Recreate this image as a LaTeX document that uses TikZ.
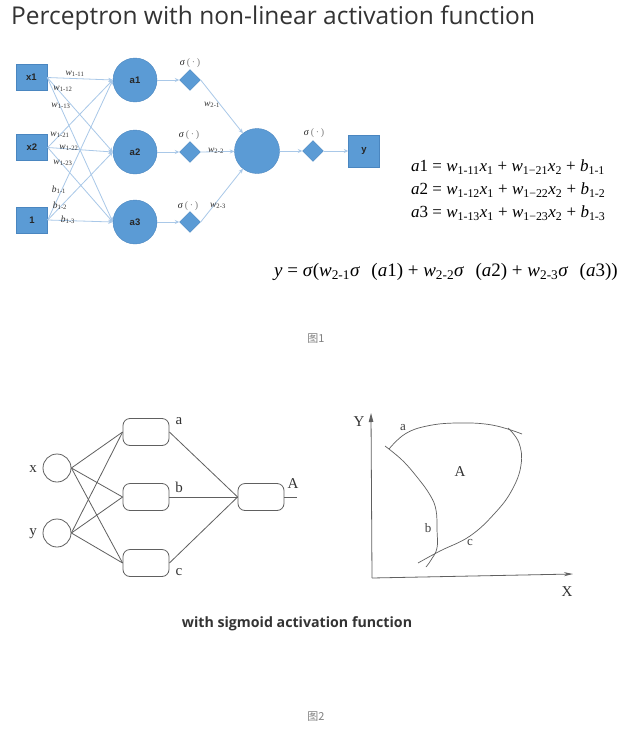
\documentclass[tikz,border=0pt]{standalone}
\usepackage{fontspec}
\setmainfont{Liberation Serif}
\newfontfamily\titlefont{Open Sans}
\newfontfamily\boxfont{Liberation Sans}
\newfontfamily\cjk{Noto Sans CJK SC}
\usetikzlibrary{shapes.geometric,arrows.meta}
\definecolor{nodeblue}{HTML}{5B9BD5}
\definecolor{nodeedge}{HTML}{4A86C0}
\definecolor{linkblue}{HTML}{A9C8E8}
\definecolor{inkgray}{HTML}{606060}
\newcommand{\vv}[2]{\textit{#1}\textsubscript{#2}}
\newcommand{\sigl}{\textit{σ}\,{\color{gray}(\,·\,)}}
\tikzset{
  inbox/.style={rectangle, fill=nodeblue, draw=nodeedge, minimum width=31pt, minimum height=26pt, inner sep=0pt, font=\boxfont\bfseries\fontsize{9.5}{9.5}\selectfont, text=black!85},
  neuron/.style={circle, fill=nodeblue, draw=nodeedge, minimum size=44pt, inner sep=0pt, font=\boxfont\bfseries\fontsize{9.5}{9.5}\selectfont, text=black!85},
  act/.style={diamond, fill=nodeblue, draw=nodeedge, minimum width=21pt, minimum height=21pt, inner sep=0pt},
  link/.style={draw=linkblue, line width=0.8pt, -{Stealth[length=4.5pt,width=4pt]}},
  wl/.style={inner sep=0pt, font=\fontsize{9.5}{9.5}\selectfont, text=black!80},
  sl/.style={inner sep=0pt, font=\fontsize{10}{10}\selectfont, text=black!85},
  eq/.style={inner sep=0pt, anchor=west, font=\fontsize{17}{17}\selectfont},
  rbox/.style={rectangle, rounded corners=7pt, draw=inkgray, line width=0.8pt, minimum width=46pt, minimum height=27pt, inner sep=0pt},
  rin/.style={circle, draw=inkgray, line width=0.8pt, minimum size=28pt, inner sep=0pt},
  gline/.style={draw=inkgray, line width=0.8pt},
  glab/.style={inner sep=0pt, font=\fontsize{15}{15}\selectfont, text=black!80},
  plab/.style={inner sep=0pt, font=\fontsize{13}{13}\selectfont, text=black!75},
  figcap/.style={inner sep=0pt, font=\cjk\fontsize{11}{11}\selectfont, text=gray}
}
\begin{document}
\begin{tikzpicture}[x=1pt,y=-1pt]
\useasboundingbox[fill=white] (0,0) rectangle (640,736);
% title
\node[anchor=west, inner sep=0pt, font=\titlefont\fontsize{24.5}{24.5}\selectfont, text=black!80] (title) at (11,18) {Perceptron with non-linear activation function};
% ---------- figure 1 network ----------
\node[inbox] (x1) at (31.5,77.5) {x1};
\node[inbox] (x2) at (32,147.5) {x2};
\node[inbox] (one) at (32,220) {1};
\node[neuron] (a1) at (135,80) {a1};
\node[neuron] (a2) at (135,152) {a2};
\node[neuron] (a3) at (135,222) {a3};
\node[act] (d1) at (190,80) {};
\node[act] (d2) at (190,152) {};
\node[act] (d3) at (190,222) {};
\node[neuron, minimum size=45pt] (h) at (257,151) {};
\node[act] (d4) at (313,151) {};
\node[inbox, minimum height=32pt] (y) at (364,151) {y};
\foreach \s in {x1,x2,one}{
  \foreach \t in {a1,a2,a3}{
    \draw[link] (\s.east) -- (\t.west);
  }
}
\draw[link] (a1) -- (d1);
\draw[link] (a2) -- (d2);
\draw[link] (a3) -- (d3);
\draw[link] (d1.east) -- (h);
\draw[link] (d2.east) -- (h);
\draw[link] (d3.east) -- (h);
\draw[link] (h) -- (d4);
\draw[link] (d4) -- (y);
% weight labels
\node[wl] (w111) at (75,74) {\vv{w}{1-11}};
\node[wl] (w112) at (63,89) {\vv{w}{1-12}};
\node[wl] (w113) at (61,106) {\vv{w}{1-13}};
\node[wl] (w121) at (60,135) {\vv{w}{1-21}};
\node[wl] (w122) at (69,148) {\vv{w}{1-22}};
\node[wl] (w123) at (63,163) {\vv{w}{1-23}};
\node[wl] (b11) at (59,190) {\vv{b}{1-1}};
\node[wl] (b12) at (60,206) {\vv{b}{1-2}};
\node[wl] (b13) at (68,220) {\vv{b}{1-3}};
\node[wl] (w21) at (212,105) {\vv{w}{2-1}};
\node[wl] (w22) at (216,151) {\vv{w}{2-2}};
\node[wl] (w23) at (218,206) {\vv{w}{2-3}};
\node[sl] (s1) at (190,63) {\sigl};
\node[sl] (s2) at (189,135) {\sigl};
\node[sl] (s3) at (188,206) {\sigl};
\node[sl] (s4) at (314,133) {\sigl};
% equations
\node[eq] (e1) at (411,167) {\textit{a}1 = \vv{w}{1-11}\vv{x}{1} + \vv{w}{1−21}\vv{x}{2} + \vv{b}{1-1}};
\node[eq] (e2) at (411,190) {\textit{a}2 = \vv{w}{1-12}\vv{x}{1} + \vv{w}{1−22}\vv{x}{2} + \vv{b}{1-2}};
\node[eq] (e3) at (411,213) {\textit{a}3 = \vv{w}{1-13}\vv{x}{1} + \vv{w}{1−23}\vv{x}{2} + \vv{b}{1-3}};
\node[eq, font=\fontsize{19}{19}\selectfont] (ey) at (274,272) {\textit{y} = \textit{σ}(\vv{w}{2-1}\textit{σ}\hspace{0.6em}(\textit{a}1) + \vv{w}{2-2}\textit{σ}\hspace{0.6em}(\textit{a}2) + \vv{w}{2-3}\textit{σ}\hspace{0.6em}(\textit{a}3))};
\node[figcap] (c1) at (316,339) {图1};
% ---------- figure 2 network ----------
\node[rin] (xin) at (57,468) {};
\node[rin] (yin) at (57,533) {};
\node[glab] (xl) at (33,469) {x};
\node[glab] (yl) at (33,534) {y};
\node[rbox] (ra) at (146,432) {};
\node[rbox] (rb) at (146,497) {};
\node[rbox] (rc) at (146,563) {};
\node[rbox] (rA) at (261,497) {};
\node[glab] (la) at (179,421) {a};
\node[glab] (lb) at (179,487) {b};
\node[glab] (lc) at (179,572) {c};
\node[glab] (lA) at (293,484) {A};
\coordinate (outA) at (297,497);
\foreach \s in {xin,yin}{
  \foreach \t in {ra,rb,rc}{
    \draw[gline] (\s.east) -- (\t.west);
  }
}
\foreach \t in {ra,rb,rc}{
  \draw[gline] (\t.east) -- (rA.west);
}
\draw[gline] (rA.east) -- (outA);
% ---------- figure 2 plot ----------
\coordinate (org) at (372,578);
\coordinate (ytop) at (371,413);
\coordinate (xend) at (573,574);
\draw[gline, -{Triangle[length=9pt,width=4.5pt]}] (org) -- (ytop);
\draw[gline, -{Stealth[length=9pt,width=4pt]}] (org) -- (xend);
\node[glab] (Yl) at (359,422) {Y};
\node[glab] (Xl) at (567,592) {X};
\draw[gline, line width=0.7pt] plot[smooth, tension=0.7] coordinates {(389,449) (405,434) (427,426) (457,423) (492,425) (522,434)};
\draw[gline, line width=0.7pt] plot[smooth, tension=0.7] coordinates {(385,446) (402,460) (417,477) (430,495) (436,510) (437,530) (437,548) (431,560) (426,567)};
\draw[gline, line width=0.7pt] plot[smooth, tension=0.7] coordinates {(418,563) (440,551) (470,536) (495,513) (512,490) (521,465) (519,443) (508,428)};
\node[plab] (pa) at (403,428) {a};
\node[glab] (pA) at (460,472) {A};
\node[plab] (pb) at (428,528) {b};
\node[plab] (pc) at (470,542) {c};
% caption
\node[inner sep=0pt, font=\titlefont\bfseries\fontsize{14.2}{14.2}\selectfont, text=black!80] (cap2) at (297,624) {with sigmoid activation function};
\node[figcap] (c2) at (316,717) {图2};
\end{tikzpicture}
\end{document}
